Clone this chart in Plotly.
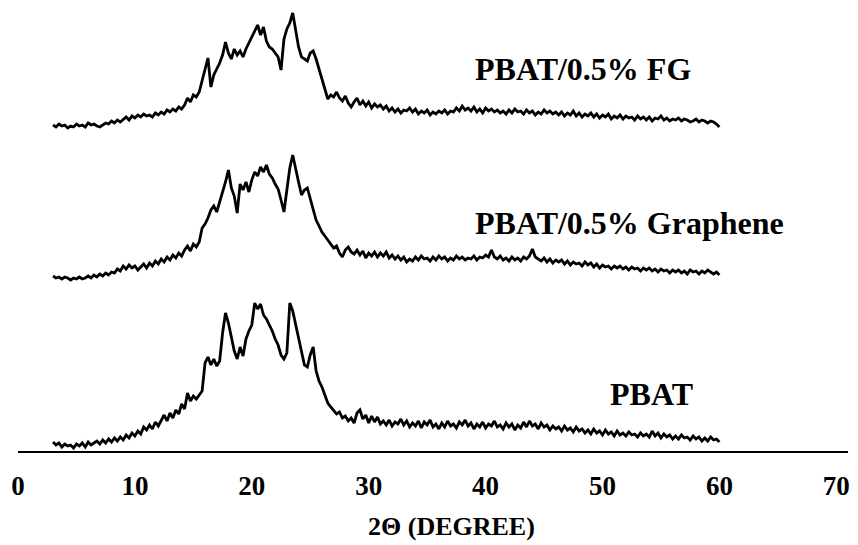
import numpy as np
import plotly.graph_objects as go

# 2-theta sampling: 3.00 .. 60.00 deg, 0.25 deg step
two_theta_start = 3.0
two_theta_step = 0.25

# Intensities (arbitrary units)
pbat_intensity = [
    9, 6, 8, 4, 7, 5, 6, 3, 7, 5, 8, 4, 9, 6, 8, 10, 7, 11, 8, 12, 9, 13, 10, 14, 11,
    16, 13, 18, 15, 20, 17, 24, 21, 26, 22, 29, 25, 31, 36, 30, 38, 33, 41, 37, 47, 42, 58, 50, 55, 52, 56,
    60, 88, 94, 86, 92, 85, 90, 118, 138, 128,
    112, 100, 92, 104, 95, 112, 120, 126, 148, 142,
    147, 136, 132, 126, 120, 112, 106, 96, 92, 98,
    148, 140, 126, 112, 100, 86, 84, 96, 104, 80,
    70, 64, 56, 48, 44, 40, 37, 39, 33, 35,
    30, 33, 28, 38, 41, 32, 36, 28, 35, 29,
    34, 27,
    30, 26, 31, 25, 29, 27, 32, 26, 30, 24,
    28, 25, 30, 23, 29, 26, 31, 24, 27, 22,
    28, 24, 30, 25, 27, 23, 29, 26, 31, 25,
    28, 22, 27, 24, 29, 23, 27, 25, 30, 24,
    26, 22, 28, 24, 27, 21, 26, 23, 29, 24,
    30, 25, 27, 22, 28, 24, 26, 21, 25, 22,
    24, 20, 25, 21, 23, 19, 24, 20, 22, 18,
    21, 17, 22, 18, 20, 16, 21, 17, 19, 15,
    20, 16, 18, 15, 19, 16, 17, 14, 18, 15,
    17, 14, 20, 15, 18, 13, 17, 14, 16, 12,
    15, 12, 16, 13, 14, 11, 15, 12, 14, 10,
    13, 10, 14, 11, 12, 9,
]

graphene_intensity = [
    10, 8, 9, 7, 9, 8, 6, 8, 7, 9, 7, 8, 10,
    8, 11, 9, 12, 10, 13, 11, 14, 13, 17, 15, 20,
    17, 21, 18, 20, 16, 19, 22, 18, 23, 20, 25, 22, 27, 24, 29, 26, 31, 28, 33, 30, 36, 40, 35, 42, 39, 44,
    58, 62, 68, 76, 80, 74, 84, 92, 104, 116,
    98, 90, 73, 102, 96, 104, 94, 106, 114, 110,
    119, 114, 121, 112, 108, 102, 97, 86, 74, 96,
    118, 131, 116, 104, 91, 96, 98, 88, 76, 66,
    60, 54, 50, 46, 43, 38, 40, 33, 29, 36,
    39, 34, 32, 36, 31, 35, 28, 33, 30, 34,
    29, 33,
    30, 34, 28, 31, 27, 30, 26, 29, 24, 27,
    25, 29, 26, 30, 27, 28, 25, 29, 26, 30,
    27, 29, 25, 28, 26, 30, 27, 29, 26, 28,
    27, 30, 26, 29, 28, 31, 29, 36, 29, 27,
    30, 26, 28, 25, 29, 26, 28, 25, 29, 27,
    30, 37, 29, 27, 25, 28, 24, 27, 23, 26,
    24, 26, 22, 25, 21, 24, 22, 23, 20, 24,
    21, 23, 19, 22, 18, 21, 19, 20, 17, 20,
    18, 20, 17, 19, 16, 19, 17, 18, 15, 18,
    16, 18, 15, 17, 14, 17, 15, 16, 13, 16,
    14, 16, 13, 15, 12, 16, 14, 15, 12, 15,
    13, 16, 14, 12, 14, 11,
]

fg_intensity = [
    8, 6, 9, 7, 8, 5, 7, 6, 9, 7, 8, 6, 10, 8, 9, 7, 6, 8, 10, 9, 12, 10, 13, 11, 14,
    16, 13, 17, 15, 18, 16, 19, 17, 18, 16, 20, 18, 21, 19, 23, 21, 24, 22, 26, 24, 28, 35, 31, 38, 36, 41,
    52, 62, 75, 46, 58, 64, 70, 78, 91, 80,
    74, 84, 78, 82, 76, 84, 90, 96, 101, 108,
    98, 106, 92, 86, 84, 80, 76, 63, 94, 104,
    110, 120, 102, 86, 76, 74, 72, 80, 82, 74,
    64, 56, 46, 34, 38, 36, 41, 35, 32, 37,
    30, 26, 31, 35, 28, 32, 27, 31, 25, 29,
    26, 28,
    24, 27, 22, 25, 21, 24, 20, 23, 22, 25,
    21, 24, 19, 22, 20, 23, 18, 21, 19, 22,
    20, 23, 19, 22, 21, 25, 22, 27, 23, 25,
    22, 26, 21, 24, 20, 25, 22, 24, 21, 23,
    20, 22, 19, 23, 20, 24, 21, 22, 19, 23,
    20, 22, 18, 21, 19, 23, 20, 22, 19, 21,
    18, 21, 17, 20, 18, 22, 17, 20, 16, 19,
    17, 20, 16, 19, 15, 18, 16, 19, 14, 17,
    15, 18, 14, 17, 15, 16, 13, 17, 14, 16,
    13, 16, 12, 15, 14, 17, 13, 15, 12, 14,
    13, 15, 12, 14, 13, 11, 12, 14, 11, 13,
    12, 10, 12, 11, 9, 6,
]

series_names = ["PBAT", "PBAT/0.5% Graphene", "PBAT/0.5% FG"]
series_values = [pbat_intensity, graphene_intensity, fg_intensity]
series_offsets = [0, 165, 318]
x_ticks = [0, 10, 20, 30, 40, 50, 60, 70]

for v in series_values:
    assert len(v) == 229, len(v)

two_theta = two_theta_start + two_theta_step * np.arange(229)

FONT = "Liberation Serif"

fig = go.Figure()
for name, vals, off in zip(series_names, series_values, series_offsets):
    fig.add_trace(go.Scatter(
        x=two_theta, y=np.array(vals) + off, mode="lines", name=name,
        line=dict(color="black", width=2.8), showlegend=False,
    ))

labels = [
    ("PBAT/0.5% FG", 38.9, 318 + 64),
    ("PBAT/0.5% Graphene", 38.9, 165 + 63),
    ("PBAT", 50.5, 0 + 57),
]
for text, x, y in labels:
    fig.add_annotation(
        text=text, x=x, y=y, xref="x", yref="y", xanchor="left", yanchor="middle",
        showarrow=False, font=dict(family=FONT, size=32, color="black", weight="bold"),
    )

fig.add_annotation(
    text="2Θ (DEGREE)", x=37.1, y=-0.1685, xref="x", yref="paper",
    xanchor="center", yanchor="middle", showarrow=False,
    font=dict(family=FONT, size=26, color="black", weight="bold"),
)

fig.update_layout(
    width=858, height=545,
    margin=dict(l=18, r=10, t=0, b=94),
    paper_bgcolor="white", plot_bgcolor="white",
    xaxis=dict(
        range=[0, 71.0], tickvals=x_ticks, ticktext=[str(t) for t in x_ticks],
        showline=True, linecolor="black", linewidth=2, showgrid=False, zeroline=False,
        ticks="", ticklabelstandoff=10,
        tickfont=dict(family=FONT, size=27, color="black", weight="bold"),
    ),
    yaxis=dict(visible=False, range=[0, 451]),
)

fig.write_html("out.html")
